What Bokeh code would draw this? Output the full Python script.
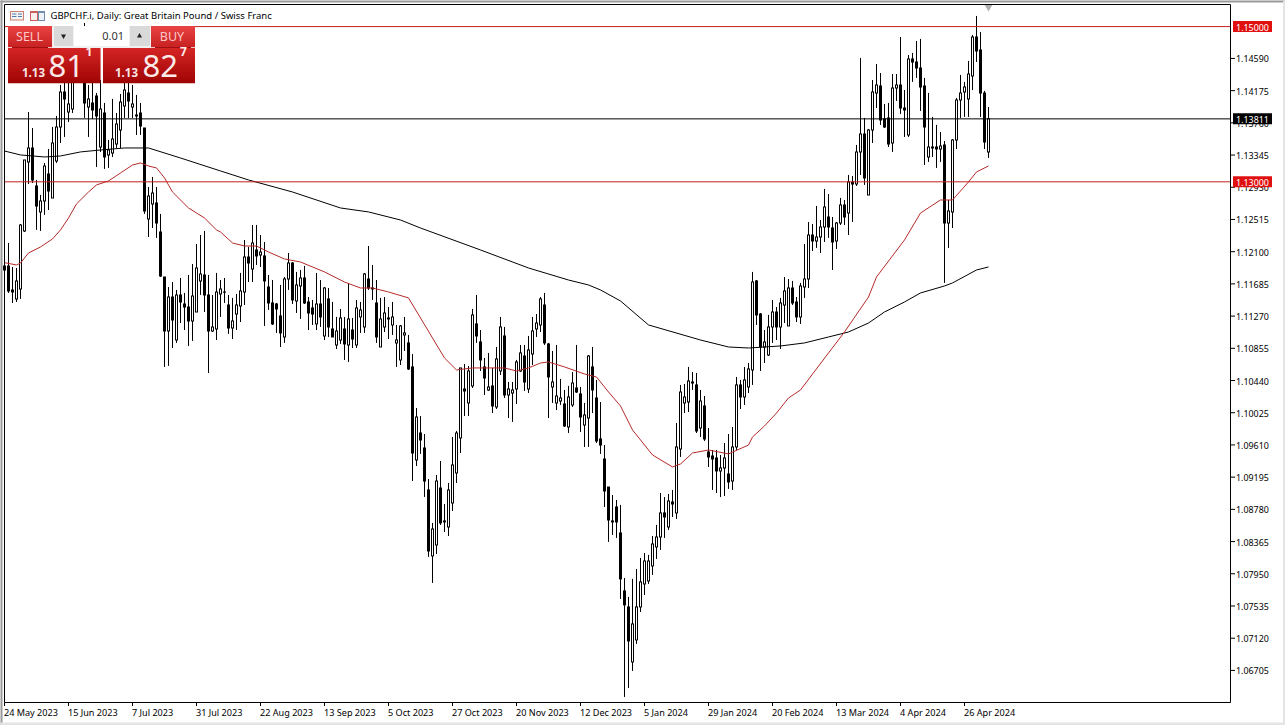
from bokeh.plotting import figure
from bokeh.models import BoxAnnotation, Label
from bokeh.embed import file_html
from bokeh.resources import INLINE

# ---------- chart data: prices in points (1 point = 0.00001) ----------
high_pts = [
111967,112212,111903,111890,112457,113282,113900,113694,113024,112831,
113243,113423,113707,113849,114248,114377,114312,114544,114621,114596,
115047,114248,114312,114145,114312,114016,113539,114068,113887,114132,
114312,114287,114248,114119,114016,113694,112934,113063,112934,112586,
111774,111645,111709,111607,111761,111568,111800,111941,112199,112315,
112367,111800,111542,111826,111735,111761,111542,111504,111555,111826,
112251,112161,112444,112444,112315,112225,111800,111735,111439,111671,
111774,112083,111967,111839,111864,111916,111516,111478,111826,111735,
111645,111632,111452,111259,111362,111259,111697,111246,111478,111452,
111826,112173,111929,111735,111504,111516,111387,111452,111156,111156,
111259,111027,110782,110086,109983,109751,109171,108605,109223,109403,
108849,109120,109712,109790,110602,110653,110628,111362,111542,111091,
110730,110795,110602,110872,111259,111130,110421,110421,110705,110898,
110898,111014,111259,111297,111516,111568,110924,110821,110898,110460,
110318,110370,110550,110898,110357,110151,110769,110872,110447,110163,
109609,109068,108965,108901,108837,107896,107652,107884,108012,108154,
108218,108193,108437,108579,108991,108939,108978,109030,109893,110383,
110395,110615,110550,110537,110318,110241,109828,109545,109545,109481,
109635,109751,109841,110486,110447,110615,110666,111839,111735,111310,
111091,111285,111478,111387,111504,111774,111748,111723,111516,111697,
112199,112482,112457,112689,112508,112908,112843,112547,112482,112792,
112766,113088,113075,113475,114596,113823,113681,114312,114518,114402,
114003,114016,114389,114389,114866,114183,114634,114660,114815,114841,
114338,114145,113836,113733,113642,113526,112766,113552,114080,114377,
114287,114557,114892,115137,114931,114171,113964]
low_pts = [
111839,111568,111439,111452,111491,112354,112972,112985,112380,112367,
112573,112637,112792,113243,113500,113578,113771,113887,114312,114287,
113823,113578,113810,113191,113385,113166,113179,113320,113436,113436,
113823,113823,113823,113604,113604,112586,112289,112405,112277,111774,
110615,110628,110859,110924,111181,111091,110885,110950,111323,111542,
111323,110537,111065,110962,111259,111439,111040,110975,111091,111194,
111413,111709,111709,111929,111903,111143,111349,111156,111053,110872,
110924,111607,111426,111310,111233,111426,111091,111156,111091,111130,
110962,111001,111001,110846,110911,110705,110679,110859,110859,111053,
111053,111607,111478,110924,110872,111065,110975,111027,110615,110640,
110821,110576,109145,109339,109494,108940,108167,107832,108205,108579,
108489,108437,108759,109120,109506,109983,109983,110344,110924,110563,
110254,110305,110021,110073,110511,110215,109957,109906,110138,110550,
110305,110279,110640,111001,111065,110898,109957,110151,110060,110125,
109841,109764,110099,110279,109777,109584,109584,110021,109635,109494,
108811,108360,108450,108412,107626,106363,106479,106698,107046,107458,
107677,107819,107935,108141,108257,108412,108515,108682,108656,109455,
110021,110034,110318,109764,109712,109661,109326,109030,108991,108939,
108952,109043,109030,109545,110073,110125,110279,110383,111156,110563,
110666,110756,110924,110962,110846,111181,111143,111413,111194,111169,
111504,111632,112109,112148,112083,112225,112277,111864,112135,112444,
112444,112315,112482,112947,113088,112960,112831,113500,113951,113733,
113694,113449,113385,114042,113874,113578,113578,114287,114338,113913,
113217,113256,113320,113179,113256,111697,112148,112405,113423,113823,
113836,113836,114183,114544,113836,113423,113307]
open_pts = [
111916,111916,111607,111491,111620,112367,113256,113436,112947,112611,
112753,113101,112792,113269,113707,114158,113900,113939,114338,114312,
114415,113964,114016,114106,113449,113887,113346,113372,113488,113668,
113977,114145,113964,113861,113887,113694,112521,112715,112727,112354,
111774,111078,111516,110962,111542,111426,111387,111207,111323,111723,
111800,111542,111078,111104,111555,111581,111413,111117,111297,111400,
111581,112032,111877,112122,112057,112045,111645,111439,111426,111272,
111001,111748,111954,111465,111658,111761,111452,111375,111169,111426,
111014,111491,111104,110898,110962,111104,110898,111091,110898,111259,
111130,111748,111620,111439,110872,111130,111246,111156,110924,110705,
111027,110924,110615,109416,109764,109571,109030,108180,108321,109055,
108618,108553,108862,109249,109700,110331,110151,110370,111169,110937,
110615,110318,110370,110099,110563,111014,110254,110279,110331,110563,
110756,110331,110782,111104,111156,111413,110911,110357,110151,110176,
110138,109841,110125,110344,110267,109867,109957,110615,110215,109687,
109429,109068,108618,108811,108476,107729,107523,106814,107098,107523,
107819,107858,108051,108296,108424,108734,108553,108875,108734,109558,
110151,110163,110421,110383,109828,110112,109519,109468,109442,109275,
109313,109236,109145,109584,110383,110228,110357,110576,111723,111297,
110872,110769,111130,111323,111130,111413,111143,111632,111452,111259,
111645,111748,112315,112238,112289,112418,112547,112405,112238,112470,
112702,112598,112998,112972,113385,113617,112831,113668,114145,114235,
113810,113823,113500,114209,114248,113951,113604,114583,114544,114467,
114235,113320,113449,113449,113423,113475,112470,112611,113539,114055,
114158,114068,114364,114866,114699,114145,113385]
close_pts = [
111864,111594,111581,111723,112444,113282,113436,113024,112688,112753,
113204,112882,113500,113707,114158,114068,114003,114441,114544,114518,
114016,114068,113926,113849,113939,113320,113410,113552,113745,114029,
114183,114042,114003,113849,113720,112624,112817,112856,112470,111787,
111078,111516,111220,111542,111452,111387,111207,111529,111890,111813,
111542,111078,111130,111581,111620,111578,111117,111207,111413,111594,
112032,111954,112212,112045,112096,111723,111439,111169,111362,111053,
111748,111954,111478,111671,111761,111439,111310,111297,111426,111259,
111632,111130,111001,111078,111246,110911,111233,110975,111375,111349,
111813,111632,111632,111001,111233,111310,111233,111259,110962,111143,
111053,110589,109506,109970,109674,109145,108244,108527,109145,108605,
108631,109030,109352,109764,110602,110305,110563,111285,111014,110705,
110473,110357,110112,110718,111130,110254,110331,110318,110679,110795,
110421,110834,111078,111181,111491,110924,110486,110421,110241,110215,
109854,110228,110408,110292,109970,109996,110756,110318,109661,109609,
109017,108643,108631,108618,107884,107549,107085,107304,107523,107845,
108115,108115,108334,108424,108734,108682,108888,108849,109584,110292,
110228,110434,110408,109790,110176,109687,109455,109429,109275,109313,
109442,109133,109584,110383,110228,110447,110589,111709,111285,110872,
110937,111130,111323,111130,111439,111594,111632,111439,111259,111658,
111748,112315,112238,112289,112418,112676,112418,112225,112470,112702,
112547,112998,112972,113385,113617,113050,113668,114158,114248,113797,
113707,113488,114209,114248,113951,113926,114583,114544,114467,114222,
113707,113449,113436,113423,113462,112470,112624,113539,114055,114145,
114222,114389,114866,114686,114145,113513,113811]

# red moving average, read at the listed bars
ma_red_bars = [0,3,4,6,9,12,14,16,18,21,23,26,29,32,34,36,38,40,42,46,50,53,54,57,60,63,66,70,74,80,85,89,92,96,101,104,107,110,113,117,121,125,128,131,134,136,140,145,148,151,154,157,162,167,169,172,176,181,186,187,190,193,196,199,206,210,216,218,225,229,234,237,241,243,246]
ma_red_pts = [111958,111929,111954,112083,112161,112264,112380,112534,112715,112869,112960,113011,113114,113217,113243,113204,113179,113050,112869,112663,112534,112380,112354,112212,112173,112173,112096,112006,111967,111839,111709,111632,111632,111581,111504,111246,110988,110730,110576,110602,110602,110602,110563,110602,110666,110679,110615,110524,110486,110292,110112,109803,109481,109326,109365,109506,109545,109494,109609,109712,109854,110021,110215,110318,110795,111065,111516,111774,112251,112598,112766,112766,112998,113127,113204]
# black moving average, read at the listed bars
ma_black_bars = [0,4,10,14,19,24,30,36,44,54,61,72,84,91,99,104,119,131,141,146,149,154,161,174,181,186,194,200,206,211,216,220,225,229,235,237,243,246]
ma_black_pts = [113397,113346,113320,113333,113385,113410,113436,113436,113307,113140,113024,112869,112663,112612,112508,112405,112122,111890,111735,111671,111607,111465,111156,110962,110872,110859,110885,110924,111001,111065,111181,111323,111452,111568,111658,111697,111864,111903]

price_ticks = [1.14590,1.14175,1.13760,1.13345,1.12930,1.12515,1.12100,1.11685,1.11270,1.10855,
               1.10440,1.10025,1.09610,1.09195,1.08780,1.08365,1.07950,1.07535,1.07120,1.06705]
date_ticks = list(range(0, 256, 16))
date_labels = ["24 May 2023","15 Jun 2023","7 Jul 2023","31 Jul 2023","22 Aug 2023","13 Sep 2023",
               "5 Oct 2023","27 Oct 2023","20 Nov 2023","12 Dec 2023","5 Jan 2024","29 Jan 2024",
               "20 Feb 2024","13 Mar 2024","4 Apr 2024","26 Apr 2024"]
level_high, level_low, last_price = 1.15000, 1.13000, 1.13811

# ---------- scales: the frame is the whole page, so marks may sit in the margins ----------
P = 1e-5
PX_BAR = 4.0              # pixels per bar
PX_PRICE = 0.000128839    # price per pixel
def xd(px): return (px - 4.5) / PX_BAR
def yd(py): return 1.15291 - (py - 4) * PX_PRICE
def ypx(price): return 4 + (1.15291 - price) / PX_PRICE

FONT = "Noto Sans"
# Bokeh paints with a half-pixel translate; the ranges take it back so that lines fall on whole pixels
p = figure(width=1285, height=725, x_range=(xd(0.5), xd(1285.5)), y_range=(yd(725.5), yd(0.5)),
           output_backend="svg", toolbar_location=None, min_border=0,
           x_axis_location=None, y_axis_location=None)
p.grid.visible = False
p.background_fill_color = "white"
p.border_fill_color = "white"
p.outline_line_color = None

# ---------- helpers ----------
def box(x0, y0, x1, y1, color):
    p.add_layout(BoxAnnotation(left=xd(x0), right=xd(x1), top=yd(y0), bottom=yd(y1),
                               fill_color=color, fill_alpha=1, line_color=None))
def grad(x0, y0, x1, y1, c0, c1):
    n = max(int(y1 - y0), 1)
    for i in range(n):
        t = i / max(n - 1, 1)
        c = tuple(round(a + (b - a) * t) for a, b in zip(c0, c1))
        box(x0, y0 + i, x1, y0 + i + 1.3, "#%02x%02x%02x" % c)
def text(x, y, s, size, color="black", align="left", weight="normal", font=FONT):
    p.add_layout(Label(x=xd(x), y=yd(y), text=s, text_font=font, text_font_size=f"{size}px",
                       text_color=color, text_align=align, text_baseline="middle", text_font_style=weight))

# ---------- candles ----------
bars = list(range(len(close_pts)))
tops = [max(a, b) * P for a, b in zip(open_pts, close_pts)]
bots = [min(a, b) * P for a, b in zip(open_pts, close_pts)]
p.segment(bars, [v * P for v in high_pts], bars, [v * P for v in low_pts], line_color="black", line_width=1)
# every body is a solid block of 3 pixels; rising bars get a white 1-pixel core
p.vbar(x=bars, top=[t + PX_PRICE / 2 for t in tops], bottom=[b - PX_PRICE / 2 for b in bots],
       width=0.75, fill_color="black", line_color=None)
up = [i for i in bars if close_pts[i] >= open_pts[i] and tops[i] - bots[i] >= PX_PRICE * 1.5]
p.vbar(x=up, top=[tops[i] - PX_PRICE / 2 for i in up], bottom=[bots[i] + PX_PRICE / 2 for i in up],
       width=0.25, fill_color="white", line_color=None)

# moving averages
p.line(ma_black_bars, [v * P for v in ma_black_pts], line_color="black", line_width=1)
p.line(ma_red_bars, [v * P for v in ma_red_pts], line_color="#b52a2a", line_width=1)

# level lines
LINE_RED = "#c2201c"
for lv, col in ((level_high, LINE_RED), (level_low, LINE_RED), (last_price, "black")):
    p.line([xd(4), xd(1231)], [lv, lv], line_color=col, line_width=1)

# newest-bar marker
p.scatter([246], [yd(7)], marker="inverted_triangle", size=8, fill_color="#b0b0b0", line_color=None)

# ---------- frame, ticks and tick labels ----------
p.multi_line([[xd(4.5), xd(4.5), xd(1230.5), xd(1230.5), xd(4.5)]], [[yd(4.5), yd(702.5), yd(702.5), yd(4.5), yd(4.5)]],
             line_color="black", line_width=1)
p.segment([xd(1230.5)] * len(price_ticks), price_ticks, [xd(1235)] * len(price_ticks), price_ticks, line_color="black", line_width=1)
p.segment(date_ticks, [yd(702.5)] * len(date_ticks), date_ticks, [yd(706)] * len(date_ticks), line_color="black", line_width=1)
for t in price_ticks:
    text(1236, ypx(t) + 0.5, f"{t:.5f}", 8.9)
for t, s in zip(date_ticks, date_labels):
    text(4 + t * PX_BAR, 712, s, 9.1)

# price tags on the axis
for lv, col in ((level_high, "#e01010"), (level_low, "#e01010"), (last_price, "black")):
    py = ypx(lv)
    box(1233, py - 5.5, 1272, py + 5.5, col)
    text(1252.5, py + 0.5, f"{lv:.5f}", 8.9, "white", "center")

# window chrome
box(0, 0, 2.5, 725, "#9a9a9a")
box(0, 0, 1285, 2.5, "#9a9a9a")
box(0, 722.5, 1285, 725, "#e4e4e4")
box(1283, 0, 1285, 725, "#e4e4e4")

# title and icons
text(50.5, 15.5, "GBPCHF.i, Daily:  Great Britain Pound / Swiss Franc", 9.5)
box(10, 11, 24, 20.5, "#c9806e"); box(11, 12, 23, 19.5, "#f4f4f4")
box(12, 13.5, 16.5, 14.5, "#5577aa"); box(12, 16, 16.5, 17, "#5577aa"); box(18, 13.5, 22, 14.5, "#5577aa"); box(18, 16, 22, 17, "#5577aa")
box(30, 11, 38, 21, "#c9605a"); box(31, 13, 37, 20, "#fbeeee")
box(38, 11, 45, 21, "#6f8fb0"); box(39, 13, 44, 20, "#eef2f8")

# one-click trading panel
grad(8, 26, 52, 47.5, (232, 66, 66), (200, 34, 34))
grad(151, 26, 195, 47.5, (232, 66, 66), (200, 34, 34))
box(12, 47, 48, 48, "#a01010"); box(155, 47, 191, 48, "#a01010")
box(52, 26, 151, 48, "#f0f0f0")
box(54, 26, 73.5, 46, "#d9d9d9"); box(129.5, 26, 150, 46, "#d9d9d9")
box(73.5, 26, 129.5, 46, "white")
text(29.5, 36.5, "SELL", 12.5, "#ffc9c9", "center")
text(172, 36.5, "BUY", 12.5, "#ffc9c9", "center")
text(124, 36, "0.01", 11, "#333333", "right")
grad(8, 48, 100.5, 83, (212, 36, 36), (160, 4, 4))
grad(103, 48, 195, 83, (212, 36, 36), (160, 4, 4))
text(22, 72.5, "1.13", 11.5, "#fbe6e6", weight="bold")
text(48.5, 66, "81", 31, "#fbeaea")
text(85.5, 51, "1", 12, "#fbeaea", weight="bold")
text(115, 72.5, "1.13", 11.5, "#fbe6e6", weight="bold")
text(142.5, 66, "82", 31, "#fbeaea")
text(180, 51, "7", 12, "#fbeaea", weight="bold")
# lot stepper arrows
p.scatter([xd(139.5)], [yd(36)], marker="triangle", size=5, fill_color="#222222", line_color=None, level="overlay")
p.scatter([xd(63.5)], [yd(36)], marker="inverted_triangle", size=5, fill_color="#222222", line_color=None, level="overlay")

open("out.html", "w").write(file_html(p, INLINE))
